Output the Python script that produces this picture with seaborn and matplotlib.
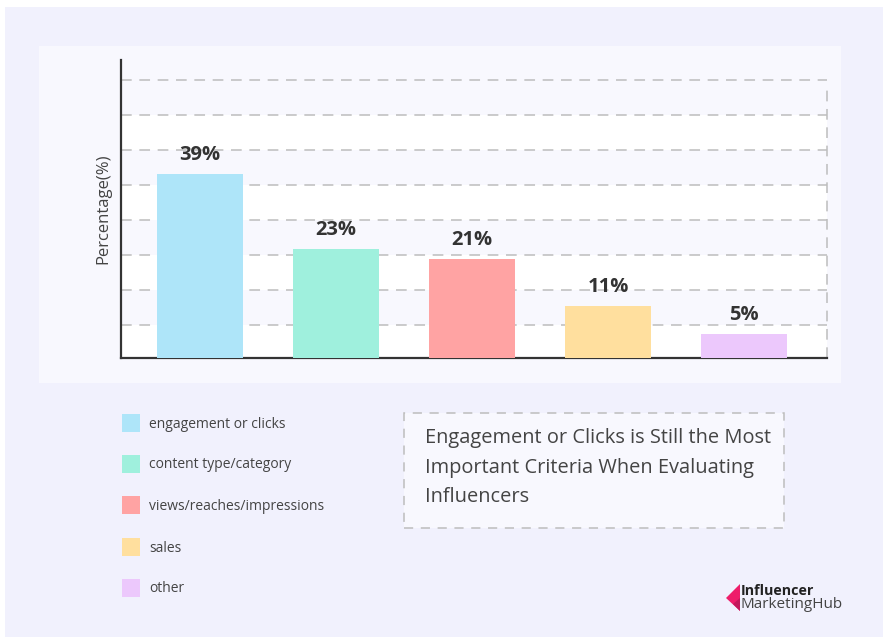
import numpy as np
import pandas as pd
import matplotlib
matplotlib.use("Agg")
import matplotlib.pyplot as plt
from matplotlib.patches import Rectangle, Polygon
import seaborn as sns

# Survey results: criteria used when evaluating influencers
categories = ["engagement or clicks", "content type/category",
              "views/reaches/impressions", "sales", "other"]
values = [39, 23, 21, 11, 5]
value_labels = ["39%", "23%", "21%", "11%", "5%"]
bar_colors = ["#aee5f9", "#9ff0dd", "#ffa3a3", "#ffdf9e", "#ecc8fc"]
title_lines = ["Engagement or Clicks is Still the Most",
               "Important Criteria When Evaluating",
               "Influencers"]

df = pd.DataFrame({"criteria": categories, "pct": values})

sns.set_theme(style="white")
plt.rcParams["font.family"] = ["Open Sans", "DejaVu Sans"]

W, H = 883, 637
fig = plt.figure(figsize=(W / 100, H / 100), dpi=100, facecolor="#f1f1fd")


def fx(px):
    return px / W


def fy(py):
    return 1 - py / H


# thin white margin on the top and left edges
fig.patches.append(Rectangle((0, fy(7)), 1, 7 / H, transform=fig.transFigure,
                             facecolor="white", edgecolor="none", zorder=-3))
fig.patches.append(Rectangle((0, 0), 5 / W, 1, transform=fig.transFigure,
                             facecolor="white", edgecolor="none", zorder=-3))
# light chart panel
fig.patches.append(Rectangle((fx(39), fy(383)), fx(841) - fx(39), fy(46) - fy(383),
                             transform=fig.transFigure, facecolor="#f8f8fe",
                             edgecolor="none", zorder=-2))

# axes area
ax_l, ax_r, ax_b, ax_t = 121, 827, 358, 60
ax = fig.add_axes([fx(ax_l), fy(ax_b), fx(ax_r) - fx(ax_l), fy(ax_t) - fy(ax_b)])
ax.set_zorder(2)
ax.set_facecolor("#f8f8fe")

px_per_unit = 184 / 39.0
ymax = (ax_b - ax_t) / px_per_unit
grid_vals = (33 + 35 * np.arange(8)) / px_per_unit

sns.barplot(data=df, x="criteria", y="pct", hue="criteria", palette=bar_colors,
            legend=False, width=0.63, saturation=1, linewidth=0, ax=ax, zorder=3)

slot = 136.0
x_lo = -(200 - ax_l) / slot
x_hi = (ax_r - 200) / slot
ax.set_ylim(0, ymax)
ax.set_xlim(x_lo, x_hi)

# alternating bands between gridlines
edges = np.concatenate([[0], grid_vals])
for i in range(0, len(edges) - 1, 2):
    ax.axhspan(edges[i], edges[i + 1], color="white", zorder=0, lw=0)
for g in grid_vals:
    ax.axhline(g, color="#bdbdbd", lw=1.1, ls=(0, (7, 5)), zorder=1)
ax.plot([x_hi, x_hi], [0, grid_vals[-1] - 8 / px_per_unit], color="#bdbdbd",
        lw=1.1, ls=(0, (7, 5)), zorder=1, clip_on=False)

for i, (v, lab) in enumerate(zip(values, value_labels)):
    ax.text(i, v + 9 / px_per_unit, lab, ha="center", va="bottom",
            fontsize=14.5, fontweight="bold", color="#333333", zorder=4)

ax.set_xticks([])
ax.set_yticks([])
ax.set_xlabel("")
ax.set_ylabel("Percentage(%)", fontsize=12, color="#444444", labelpad=7)
for s in ["top", "right"]:
    ax.spines[s].set_visible(False)
for s in ["left", "bottom"]:
    ax.spines[s].set_color("#333333")
    ax.spines[s].set_linewidth(1.6)

# legend rows
row_y = [423, 464, 505, 547, 588]
for cy, name, col in zip(row_y, categories, bar_colors):
    fig.patches.append(Rectangle((fx(122), fy(cy + 9)), 18 / W, 18 / H,
                                 transform=fig.transFigure, facecolor=col,
                                 edgecolor="none"))
    fig.text(fx(149), fy(cy + 1), name, fontsize=10, color="#444444",
             va="center", ha="left")

# dashed caption box
fig.patches.append(Rectangle((fx(404), fy(528)), fx(784) - fx(404), fy(413) - fy(528),
                             transform=fig.transFigure, facecolor="#f8f8fe",
                             edgecolor="#bdbdbd", lw=1.1, ls=(0, (6, 5))))
for ly, line in zip([438.5, 467.5, 497.5], title_lines):
    fig.text(fx(425), fy(ly), line, fontsize=14.4, color="#444444",
             va="center", ha="left")

# brand mark
fig.patches.append(Polygon([(fx(740), fy(584)), (fx(726), fy(598)), (fx(740), fy(611))],
                           closed=True, transform=fig.transFigure,
                           facecolor="#ee1d6a", edgecolor="none"))
fig.patches.append(Polygon([(fx(740), fy(598)), (fx(733), fy(604)), (fx(740), fy(611))],
                           closed=True, transform=fig.transFigure,
                           facecolor="#c2185b", edgecolor="none"))
fig.text(fx(741), fy(591), "Influencer", fontsize=10.3, fontweight="bold",
         color="#222222", va="center", ha="left")
fig.text(fx(741), fy(604.5), "MarketingHub", fontsize=11, color="#444444",
         va="center", ha="left")

fig.savefig("out.png", dpi=100, facecolor=fig.get_facecolor())
